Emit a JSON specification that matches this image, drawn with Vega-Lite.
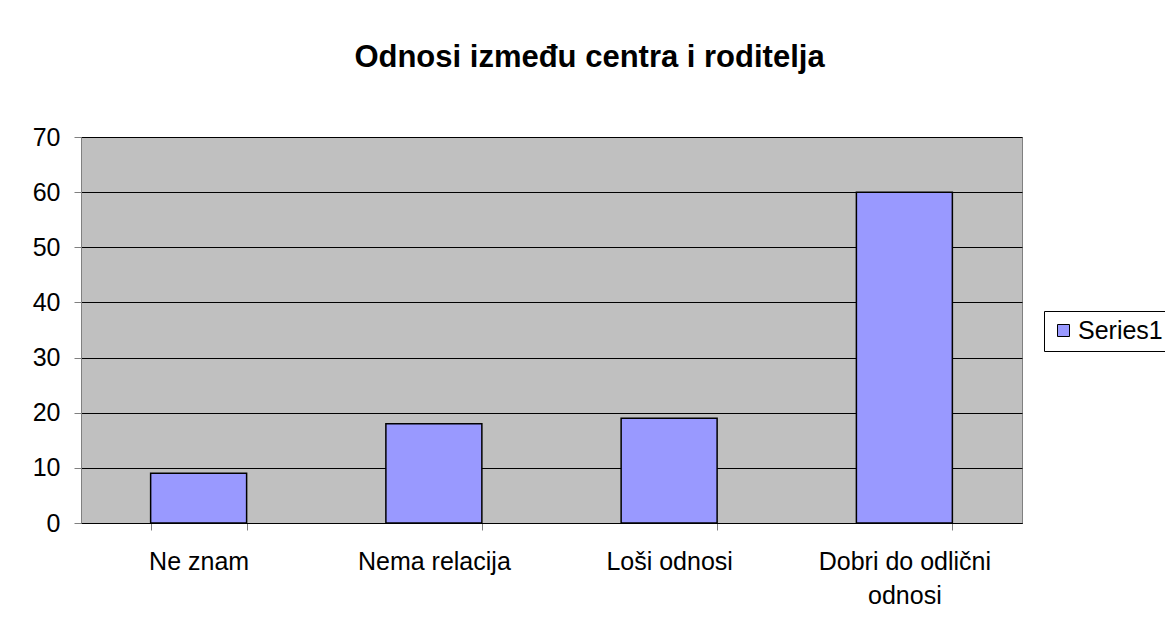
{
  "$schema": "https://vega.github.io/schema/vega-lite/v6.json",
  "width": 941,
  "height": 386,
  "autosize": {"type": "none"},
  "padding": {"left": 81, "top": 137, "right": 143, "bottom": 111},
  "background": "white",
  "title": {
    "text": "Odnosi između centra i roditelja",
    "font": "Liberation Sans",
    "fontSize": 31,
    "fontWeight": "bold",
    "color": "black",
    "anchor": "middle",
    "baseline": "alphabetic",
    "dx": 38,
    "offset": 27
  },
  "data": {
    "values": [
      {"kategorija": "Ne znam", "vrijednost": 9, "serija": "Series1"},
      {"kategorija": "Nema relacija", "vrijednost": 18, "serija": "Series1"},
      {"kategorija": "Loši odnosi", "vrijednost": 19, "serija": "Series1"},
      {"kategorija": "Dobri do odlični odnosi", "vrijednost": 60, "serija": "Series1"}
    ]
  },
  "mark": {"type": "bar", "stroke": "black", "strokeWidth": 1.5},
  "encoding": {
    "x": {
      "field": "kategorija",
      "type": "nominal",
      "sort": null,
      "scale": {"paddingInner": 0.592, "paddingOuter": 0.296},
      "axis": {
        "title": null,
        "labelAngle": 0,
        "tickBand": "extent",
        "ticks": true,
        "tickSize": 7,
        "tickColor": "#808080",
        "domainColor": "black",
        "grid": false,
        "labelFont": "Liberation Sans",
        "labelFontSize": 25,
        "labelColor": "black",
        "labelPadding": 19,
        "labelLineHeight": 34,
        "labelLimit": 0,
        "labelExpr": "datum.label == 'Dobri do odlični odnosi' ? ['Dobri do odlični', 'odnosi'] : datum.label"
      }
    },
    "y": {
      "field": "vrijednost",
      "type": "quantitative",
      "scale": {"domain": [0, 70], "nice": false},
      "axis": {
        "title": null,
        "values": [0, 10, 20, 30, 40, 50, 60, 70],
        "grid": true,
        "gridColor": "black",
        "gridWidth": 1,
        "gridOpacity": 1,
        "domainColor": "#808080",
        "tickColor": "#808080",
        "tickSize": 7,
        "labelFont": "Liberation Sans",
        "labelFontSize": 25,
        "labelColor": "black",
        "labelPadding": 14
      }
    },
    "color": {
      "field": "serija",
      "type": "nominal",
      "scale": {"range": ["#9999FF"]},
      "legend": {
        "title": null,
        "orient": "none",
        "legendX": 963,
        "legendY": 174,
        "padding": 7,
        "strokeColor": "black",
        "fillColor": "white",
        "symbolType": "square",
        "symbolSize": 144,
        "symbolStrokeColor": "black",
        "symbolStrokeWidth": 1,
        "labelFont": "Liberation Sans",
        "labelFontSize": 25,
        "labelColor": "black",
        "labelOffset": 2
      }
    }
  },
  "config": {
    "view": {"fill": "#C0C0C0", "stroke": "#808080"}
  }
}
